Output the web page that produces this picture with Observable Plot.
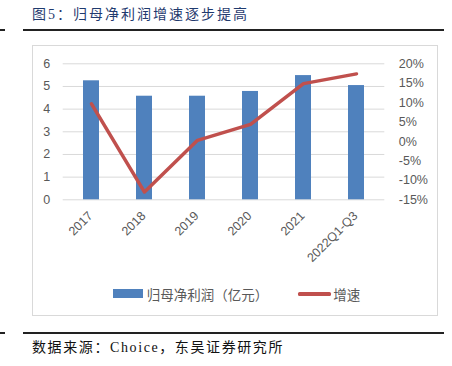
<!DOCTYPE html>
<html><head><meta charset="utf-8">
<script src="https://cdn.jsdelivr.net/npm/d3@7"></script>
<script src="https://cdn.jsdelivr.net/npm/@observablehq/plot@0.6"></script>
<style>
body{margin:0;background:#fff;}
#wrap{position:relative;width:452px;height:366px;overflow:hidden;background:#fff;}
.rule{position:absolute;height:1.5px;background:#222;}
#title{position:absolute;left:32px;top:5px;line-height:20px;font-size:14px;letter-spacing:2px;color:#1F3A6E;font-family:"Liberation Serif","Noto Sans CJK SC",serif;white-space:nowrap;}
#frame{position:absolute;left:31.5px;top:45px;width:406px;height:271px;border:1px solid #D9D9D9;box-sizing:border-box;}
#chart{position:absolute;left:0;top:0;}
#caption{position:absolute;left:32px;top:338px;line-height:20px;font-size:14px;letter-spacing:1.6px;color:#111;font-family:"Liberation Serif","Noto Sans CJK SC",serif;white-space:nowrap;}
.lg{position:absolute;font-family:"Noto Sans CJK SC",sans-serif;font-size:13.5px;color:#595959;line-height:18px;top:284.5px;white-space:nowrap;}
</style></head><body>
<div id="wrap">
  <div class="rule" style="top:29.2px;left:0;width:5px"></div>
  <div class="rule" style="top:29.2px;left:23px;width:421px"></div>
  <div id="title">图5：归母净利润增速逐步提高</div>
  <div id="frame"></div>
  <div id="chart"></div>
  <div style="position:absolute;left:113.3px;top:289.3px;width:30px;height:8.4px;background:#4F81BD"></div>
  <div class="lg" id="lg1" style="left:146.7px"></div>
  <div style="position:absolute;left:297.7px;top:292px;width:33px;height:3.5px;background:#C0504D;border-radius:1.5px"></div>
  <div class="lg" id="lg2" style="left:333.3px"></div>
  <div class="rule" style="top:332px;left:0;width:5px"></div>
  <div class="rule" style="top:332px;left:23px;width:421px"></div>
  <div id="caption">数据来源：Choice，东吴证券研究所</div>
</div>
<script>
const categories = ["2017","2018","2019","2020","2021","2022Q1-Q3"];
const profit = [5.25, 4.57, 4.57, 4.78, 5.48, 5.04];   // 归母净利润（亿元）
const growth = [9.7, -13.0, 0.3, 4.4, 14.9, 17.4];     // 增速 %
const leftTicks = [0,1,2,3,4,5,6];
const rightTicks = [-15,-10,-5,0,5,10,15,20];
const seriesNames = ["归母净利润（亿元）","增速"];

document.getElementById("lg1").textContent = seriesNames[0];
document.getElementById("lg2").textContent = seriesNames[1];

const rMin = -15, rMax = 20, lMax = 6;
const toLeft = p => (p - rMin) / (rMax - rMin) * lMax;
const data = categories.map((c,i)=>({cat:c, profit:profit[i], growth:growth[i]}));

const chart = Plot.plot({
  width: 452, height: 366,
  marginLeft: 62.7, marginRight: 67.7, marginTop: 63.3, marginBottom: 166.7,
  x: {type:"band", domain: categories, paddingInner: 0.7, paddingOuter: 0.35, label: null},
  y: {domain:[0, lMax], label: null},
  style: {fontFamily:"Liberation Sans, Arial, sans-serif", fontSize:"12.5px", color:"#595959", background:"transparent", overflow:"visible"},
  marks: [
    Plot.gridY(leftTicks, {stroke:"#D9D9D9", strokeOpacity:1, strokeWidth:1}),
    Plot.barY(data, {x:"cat", y:"profit", fill:"#4F81BD"}),
    Plot.line(data, {x:"cat", y:d=>toLeft(d.growth), stroke:"#C0504D", strokeWidth:3.5, strokeLinejoin:"round", strokeLinecap:"round"}),
    Plot.axisY({anchor:"left", ticks:leftTicks, tickFormat: d => String(d), tickSize:0, tickPadding:13, label:null, fill:"#595959"}),
    Plot.axisY({anchor:"right", ticks:rightTicks.map(toLeft), tickFormat: v => Math.round(v / lMax * (rMax - rMin) + rMin) + "%", tickSize:0, tickPadding:14, label:null, fill:"#595959"}),
    Plot.axisX({tickSize:0, tickRotate:-45, tickPadding:14, dx:-1, label:null, fill:"#595959"})
  ]
});
document.getElementById("chart").appendChild(chart);
</script>
</body></html>
